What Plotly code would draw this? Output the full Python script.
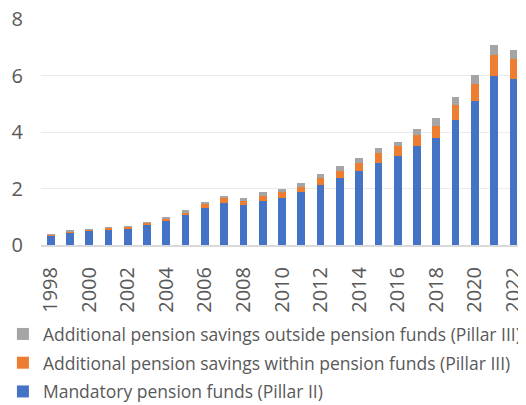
import plotly.graph_objects as go

years = list(range(1998, 2023))
mandatory = [0.34, 0.45, 0.51, 0.56, 0.60, 0.72, 0.86, 1.07, 1.32, 1.49, 1.40, 1.56, 1.68,
             1.86, 2.13, 2.38, 2.62, 2.92, 3.16, 3.52, 3.79, 4.42, 5.09, 6.00, 5.87]
within = [0.035, 0.035, 0.035, 0.05, 0.05, 0.07, 0.07, 0.09, 0.14, 0.18, 0.16, 0.18, 0.20,
          0.20, 0.25, 0.25, 0.27, 0.33, 0.34, 0.38, 0.42, 0.52, 0.61, 0.73, 0.73]
outside = [0.01, 0.02, 0.01, 0.02, 0.02, 0.02, 0.06, 0.07, 0.07, 0.07, 0.09, 0.13, 0.12,
           0.14, 0.14, 0.18, 0.18, 0.20, 0.16, 0.20, 0.28, 0.31, 0.32, 0.35, 0.29]

names = ["Mandatory pension funds (Pillar II)",
         "Additional pension savings within pension funds (Pillar III)",
         "Additional pension savings outside pension funds (Pillar III)"]
colors = ["#4472C4", "#ED7D31", "#A5A5A5"]
ranks = [3, 2, 1]

fig = go.Figure()
for i, (vals, name, col, rk) in enumerate(zip([mandatory, within, outside], names, colors, ranks)):
    fig.add_trace(go.Bar(x=years, y=vals, name=name, legendgroup=f"g{i}", legendrank=rk,
                         marker=dict(color=col, line=dict(width=0))))

fig.update_layout(
    barmode="stack",
    bargap=0.6,
    width=518, height=397,
    margin=dict(l=33, r=2.5, t=10.5, b=160, autoexpand=False),
    paper_bgcolor="white", plot_bgcolor="white",
    font=dict(family="Open Sans", color="#595959"),
    legend=dict(orientation="v", traceorder="grouped", tracegroupgap=3,
                x=-0.079, xanchor="left",
                yref="container", y=0.224, yanchor="top", font=dict(size=17.5, color="#595959"),
                itemclick=False),
    showlegend=True,
)
fig.update_xaxes(range=[1997.5, 2022.5], tickmode="linear", tick0=1998, dtick=2,
                 tickangle=-90, tickfont=dict(size=20, color="#595959"),
                 showgrid=False, showline=True, linecolor="#D9D9D9", linewidth=2, ticks="",
                 ticklabelstandoff=12, ticklabeloverflow="allow")
fig.update_yaxes(range=[0, 8], dtick=2, tickfont=dict(size=20, color="#595959"),
                 showgrid=True, gridcolor="#EBEBEB", gridwidth=1, zeroline=False,
                 ticks="", ticklabelstandoff=17, ticklabeloverflow="allow")

fig.write_html("out.html")
